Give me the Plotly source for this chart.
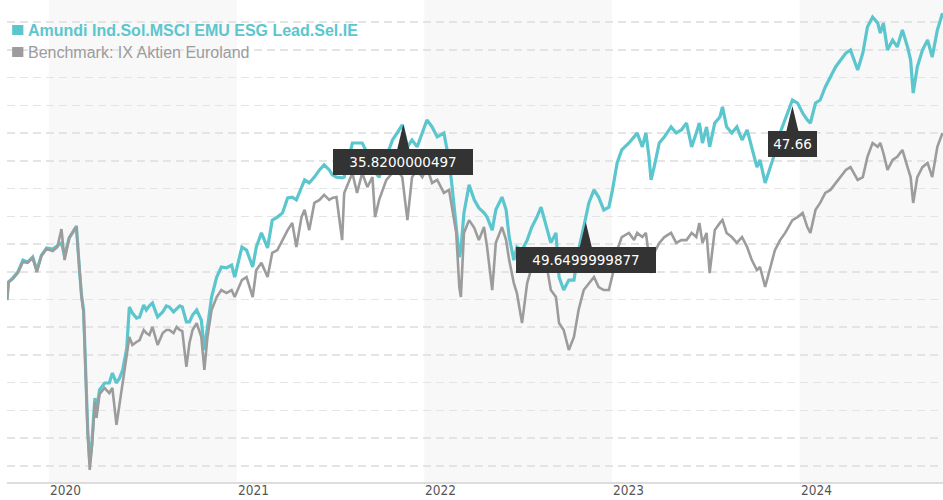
import plotly.graph_objects as go

dates = [
    "2019-10-12", "2019-10-15", "2019-10-23", "2019-11-02", "2019-11-12", "2019-11-21", "2019-12-01", "2019-12-09",
    "2019-12-18", "2019-12-28", "2020-01-09", "2020-01-18", "2020-01-26", "2020-02-01", "2020-02-10", "2020-02-20",
    "2020-02-24", "2020-03-01", "2020-03-05", "2020-03-09", "2020-03-13", "2020-03-17", "2020-03-21", "2020-03-25",
    "2020-03-31", "2020-04-03", "2020-04-09", "2020-04-19", "2020-04-28", "2020-05-04", "2020-05-12", "2020-05-18",
    "2020-05-24", "2020-06-01", "2020-06-06", "2020-06-12", "2020-06-20", "2020-06-26", "2020-07-04", "2020-07-09",
    "2020-07-15", "2020-07-21", "2020-07-31", "2020-08-10", "2020-08-17", "2020-08-23", "2020-08-31", "2020-09-06",
    "2020-09-12", "2020-09-17", "2020-09-25", "2020-10-01", "2020-10-07", "2020-10-15", "2020-10-24", "2020-10-30",
    "2020-11-05", "2020-11-13", "2020-11-23", "2020-12-02", "2020-12-12", "2020-12-22", "2020-12-28", "2021-01-11",
    "2021-01-20", "2021-02-01", "2021-02-08", "2021-02-18", "2021-03-02", "2021-03-11", "2021-03-21", "2021-03-31",
    "2021-04-10", "2021-04-19", "2021-04-27", "2021-05-07", "2021-05-13", "2021-05-22", "2021-06-01", "2021-06-11",
    "2021-06-20", "2021-06-30", "2021-07-06", "2021-07-14", "2021-07-25", "2021-07-29", "2021-08-06", "2021-08-14",
    "2021-08-23", "2021-09-02", "2021-09-12", "2021-09-22", "2021-09-27", "2021-10-05", "2021-10-19", "2021-10-31",
    "2021-11-09", "2021-11-19", "2021-11-29", "2021-12-08", "2021-12-18", "2021-12-28", "2022-01-06", "2022-01-16",
    "2022-01-26", "2022-02-08", "2022-02-18", "2022-02-24", "2022-03-04", "2022-03-10", "2022-03-13", "2022-03-19",
    "2022-03-29", "2022-04-08", "2022-04-17", "2022-04-27", "2022-05-03", "2022-05-13", "2022-05-20", "2022-06-01",
    "2022-06-09", "2022-06-15", "2022-06-24", "2022-06-30", "2022-07-10", "2022-07-20", "2022-07-29", "2022-08-08",
    "2022-08-16", "2022-08-26", "2022-09-04", "2022-09-14", "2022-09-20", "2022-09-29", "2022-10-09", "2022-10-19",
    "2022-10-28", "2022-11-07", "2022-11-17", "2022-11-27", "2022-12-06", "2022-12-16", "2022-12-26", "2023-01-02",
    "2023-01-11", "2023-01-20", "2023-02-03", "2023-02-13", "2023-02-19", "2023-03-01", "2023-03-08", "2023-03-14",
    "2023-03-18", "2023-03-24", "2023-04-03", "2023-04-13", "2023-04-26", "2023-05-06", "2023-05-16", "2023-05-26",
    "2023-06-05", "2023-06-14", "2023-06-20", "2023-06-26", "2023-07-04", "2023-07-10", "2023-07-20", "2023-07-30",
    "2023-08-04", "2023-08-12", "2023-08-22", "2023-09-01", "2023-09-11", "2023-09-21", "2023-09-30", "2023-10-10",
    "2023-10-16", "2023-10-26", "2023-11-05", "2023-11-14", "2023-11-24", "2023-12-04", "2023-12-18", "2023-12-28",
    "2024-01-07", "2024-01-16", "2024-01-22", "2024-02-01", "2024-02-10", "2024-02-20", "2024-03-01", "2024-03-11",
    "2024-03-21", "2024-03-31", "2024-04-09", "2024-04-23", "2024-05-03", "2024-05-12", "2024-05-22", "2024-06-01",
    "2024-06-06", "2024-06-12", "2024-06-20", "2024-06-30", "2024-07-09", "2024-07-19", "2024-07-29", "2024-08-04",
    "2024-08-09", "2024-08-17", "2024-08-27", "2024-09-06", "2024-09-15", "2024-09-25", "2024-10-05",
]

fund_values = [
    -1.1, 5.4, 6.8, 9.0, 13.3, 12.6, 14.4, 9.7,
    15.1, 17.7, 17.3, 18.4, 19.5, 14.8, 21.3, 24.1,
    25.6, 9.7, 0.7, -4.7, -29.2, -47.9, -59.5, -53.0,
    -36.4, -41.4, -33.5, -31.0, -31.0, -27.4, -31.0, -29.2,
    -26.3, -18.4, -3.6, -5.8, -7.6, -7.2, -2.9, -4.7,
    -3.2, -2.2, -7.2, -5.4, -3.2, -3.6, -5.4, -4.3,
    -3.2, -3.6, -9.0, -9.0, -6.5, -4.7, -8.3, -19.1,
    -10.8, 0.0, 7.2, 10.8, 10.5, 11.5, 7.2, 18.0,
    16.9, 10.8, 18.0, 23.1, 17.7, 27.7, 28.8, 30.3,
    35.7, 36.0, 35.0, 39.6, 42.2, 41.1, 43.2, 45.8,
    47.6, 45.8, 44.0, 43.2, 42.9, 43.2, 49.4, 55.5,
    55.5, 55.5, 51.9, 45.8, 45.0, 43.2, 50.5, 56.6,
    59.1, 62.0, 54.1, 56.6, 54.1, 59.1, 63.8, 61.3,
    57.7, 59.1, 49.4, 39.6, 25.2, 14.4, 16.9, 30.3,
    40.4, 35.0, 32.1, 30.3, 28.8, 24.1, 31.4, 36.0,
    31.4, 21.6, 13.3, 18.0, 16.9, 20.5, 25.2, 28.8,
    32.4, 25.2, 19.5, 23.1, 7.2, 2.5, 6.1, 6.1,
    16.9, 25.2, 33.9, 38.6, 36.0, 31.4, 32.4, 38.6,
    48.3, 53.0, 55.5, 57.7, 59.1, 54.1, 59.1, 50.5,
    42.2, 46.8, 55.5, 57.7, 61.3, 59.1, 60.2, 62.7,
    54.1, 59.1, 62.7, 55.5, 61.3, 54.1, 62.7, 64.9,
    68.5, 61.3, 59.1, 61.3, 56.6, 60.2, 54.1, 46.8,
    49.4, 41.1, 46.8, 51.9, 59.1, 63.8, 71.0, 69.9,
    66.3, 63.8, 62.7, 69.9, 71.0, 75.7, 79.3, 82.9,
    85.4, 87.9, 89.0, 81.8, 87.9, 97.3, 100.9, 98.7,
    95.1, 98.7, 89.0, 92.6, 90.1, 96.2, 90.1, 85.4,
    73.5, 82.9, 89.0, 92.6, 86.5, 96.2, 102.3,
]

bench_values = [
    -1.1, 5.4, 6.5, 8.6, 12.6, 12.3, 14.1, 9.0,
    14.8, 17.3, 16.6, 18.0, 24.5, 13.3, 21.3, 24.5,
    24.9, 8.6, 0.0, -5.8, -29.9, -49.0, -62.3, -54.4,
    -37.8, -43.6, -35.0, -32.8, -34.6, -32.8, -46.1, -38.9,
    -32.1, -20.9, -14.4, -17.3, -16.2, -15.5, -11.9, -13.0,
    -13.7, -10.8, -17.3, -13.0, -11.9, -11.9, -13.0, -10.8,
    -11.9, -12.3, -25.2, -16.6, -11.9, -9.4, -14.4, -26.3,
    -14.4, -4.7, 0.0, 2.5, 1.4, 2.5, 0.0, 6.1,
    7.2, 0.0, 9.7, 12.3, 7.2, 15.9, 16.9, 20.5,
    24.1, 26.7, 18.0, 28.8, 31.4, 24.1, 33.9, 35.0,
    36.8, 35.0, 35.7, 36.0, 20.5, 37.5, 41.1, 44.7,
    37.5, 44.7, 39.6, 43.2, 28.8, 35.0, 42.2, 44.7,
    45.8, 43.2, 27.7, 43.2, 45.8, 43.2, 46.8, 41.1,
    42.2, 37.5, 38.6, 31.4, 23.1, 3.6, 0.0, 23.1,
    27.7, 24.9, 20.5, 25.2, 18.0, 2.5, 19.5, 25.2,
    20.5, 13.3, 5.0, 1.4, -9.4, 5.0, 10.8, 9.7,
    13.3, 12.3, 2.5, 0.0, -9.4, -11.9, -19.1, -14.4,
    -4.7, 2.5, 5.0, 7.2, 3.6, 2.5, 2.5, 7.9,
    16.9, 21.6, 23.1, 20.5, 23.1, 21.6, 23.1, 14.4,
    8.6, 15.9, 19.5, 21.6, 23.1, 19.5, 20.5, 20.5,
    23.1, 21.6, 26.7, 19.5, 23.1, 8.6, 24.1, 26.7,
    27.7, 23.1, 21.6, 19.5, 21.6, 18.0, 13.3, 9.7,
    10.8, 3.6, 10.8, 16.9, 20.5, 23.1, 27.7, 28.8,
    30.3, 25.2, 23.1, 31.4, 33.9, 37.5, 38.6, 41.1,
    43.2, 45.8, 46.8, 42.2, 43.2, 50.5, 55.5, 54.1,
    55.5, 51.9, 45.8, 49.4, 50.5, 53.0, 46.8, 43.2,
    33.9, 43.2, 46.8, 48.3, 43.2, 54.1, 59.1,
]

fund_name = "Amundi Ind.Sol.MSCI EMU ESG Lead.Sel.IE"
bench_name = "Benchmark: IX Aktien Euroland"

year_ticks = ["2020-01-01", "2021-01-01", "2022-01-01", "2023-01-01", "2024-01-01"]
year_labels = ["2020", "2021", "2022", "2023", "2024"]
shaded_years = [("2020-01-01", "2021-01-01"), ("2022-01-01", "2023-01-01"), ("2024-01-01", "2024-10-06")]

marker_dates = ["2021-11-21", "2022-11-11", "2023-12-18"]
marker_values = [62.3, 27.0, 68.8]
marker_labels = ["35.8200000497", "49.6499999877", "47.66"]
marker_widths = [140, 140, 49]

x_range = ["2019-10-12", "2024-10-06"]
y_range = [-66.67, 107.03]

TEAL = "#5cc6ce"
GREY = "#9c9c9c"

fig = go.Figure()
fig.add_trace(go.Scatter(x=dates, y=fund_values, mode="lines", name=fund_name,
                         line=dict(color=TEAL, width=3.2), hoverinfo="skip"))
fig.add_trace(go.Scatter(x=dates, y=bench_values, mode="lines", name=bench_name,
                         line=dict(color=GREY, width=2.6), hoverinfo="skip"))

shapes = []
for a, b in shaded_years:
    shapes.append(dict(type="rect", xref="x", yref="paper", x0=a, x1=b, y0=0, y1=1,
                       fillcolor="#f8f8f8", line=dict(width=0), layer="below"))

# legend squares
shapes.append(dict(type="rect", xref="paper", yref="paper", x0=0.0055, x1=0.0175,
                   y0=1 - 35 / 482, y1=1 - 25 / 482, fillcolor=TEAL, line=dict(width=0)))
shapes.append(dict(type="rect", xref="paper", yref="paper", x0=0.0055, x1=0.0175,
                   y0=1 - 57 / 482, y1=1 - 47 / 482, fillcolor=GREY, line=dict(width=0)))

annotations = [
    dict(xref="paper", yref="paper", x=0.0205, y=1 - 30 / 482, xanchor="left", yanchor="middle",
         text="<b>" + fund_name + "</b>", showarrow=False,
         font=dict(family="Arial, Liberation Sans", size=16, color=TEAL)),
    dict(xref="paper", yref="paper", x=0.0205, y=1 - 52 / 482, xanchor="left", yanchor="middle",
         text=bench_name, showarrow=False,
         font=dict(family="Arial, Liberation Sans", size=16, color=GREY)),
]

# year labels, left-aligned at the start of each year
for t, lab in zip(year_ticks, year_labels):
    annotations.append(dict(xref="x", yref="paper", x=t, y=0, xanchor="left", yanchor="top",
                            xshift=-1, yshift=2, text=lab, showarrow=False,
                            font=dict(family="DejaVu Sans Condensed, DejaVu Sans", size=13.5,
                                      color="#555555")))

for d, v, lab, w in zip(marker_dates, marker_values, marker_labels, marker_widths):
    shapes.append(dict(type="path", xref="x", yref="y", xsizemode="pixel", ysizemode="pixel",
                       xanchor=d, yanchor=v, path="M 0 0 L -6 -25 L 6 -25 Z",
                       fillcolor="#333333", line=dict(width=0), layer="above"))
    annotations.append(dict(xref="x", yref="y", x=d, y=v, xanchor="center", yanchor="middle",
                            yshift=-38, text=lab, showarrow=False, width=w, height=26,
                            borderpad=0, borderwidth=0, bgcolor="#333333",
                            font=dict(family="DejaVu Sans", size=13.5, color="#ffffff")))

fig.update_layout(
    width=943, height=500,
    margin=dict(l=7, r=0, t=0, b=18),
    paper_bgcolor="white", plot_bgcolor="white",
    showlegend=False,
    shapes=shapes, annotations=annotations,
    xaxis=dict(type="date", range=x_range, showticklabels=False,
               showgrid=False, zeroline=False, showline=True, linecolor="#dddddd", linewidth=2,
               ticks=""),
    yaxis=dict(range=y_range, showticklabels=False, tick0=-0.9, dtick=10,
               showgrid=True, gridcolor="#e4e4e4", gridwidth=1.5, griddash="8px,5px",
               zeroline=False, showline=False, ticks=""),
)

fig.write_html("out.html", config={"displayModeBar": False, "staticPlot": True},
               post_script="document.body.style.margin='0px';document.body.style.overflow='hidden';")
